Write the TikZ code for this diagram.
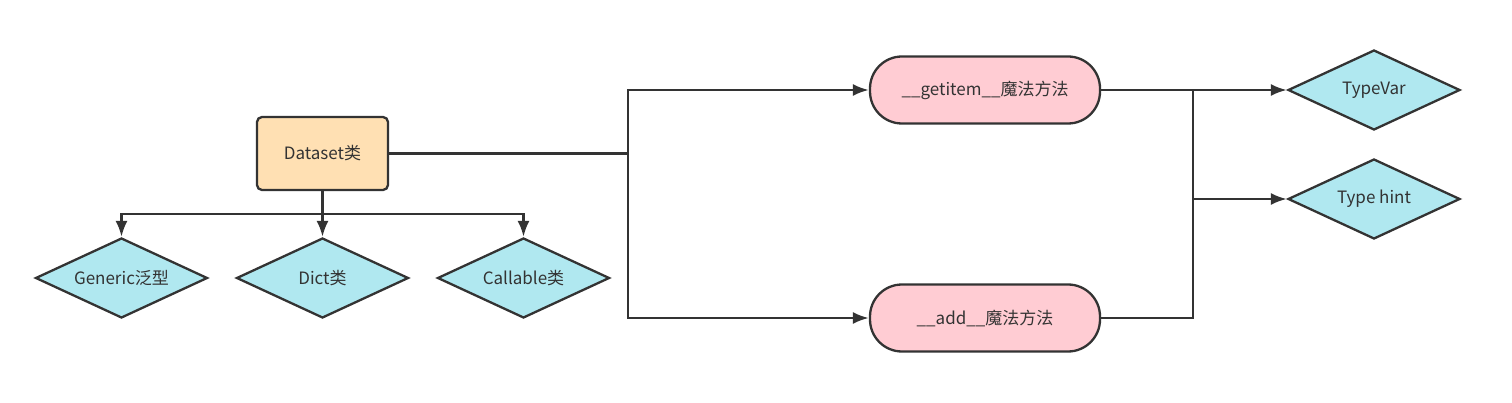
\documentclass[tikz,border=0pt]{standalone}
\usepackage{fontspec}
\setmainfont{Noto Sans CJK SC}
\usepackage{xcolor}
\usetikzlibrary{shapes,arrows.meta,positioning,calc}

\definecolor{boxpeach}{HTML}{FFE0B3}
\definecolor{boxpink}{HTML}{FFCCD3}
\definecolor{boxcyan}{HTML}{B0E8F0}
\definecolor{linegray}{HTML}{333333}

\tikzset{
    classbox/.style={rectangle, draw=linegray, line width=2.3pt, fill=boxpeach, rounded corners=5pt, minimum width=131pt, minimum height=73pt},
    methodbox/.style={rectangle, draw=linegray, line width=2.3pt, fill=boxpink, rounded corners=32pt, minimum width=230pt, minimum height=67pt},
    typebox/.style={diamond, draw=linegray, line width=2.3pt, fill=boxcyan, inner sep=0pt, aspect=2.15, minimum width=172pt, minimum height=80pt},
    link/.style={draw=linegray, line width=2.5pt},
    arrow/.style={link, -{Latex[length=16pt,width=12pt]}}
}

\begin{document}
\begin{tikzpicture}[x=1pt, y=1pt, font=\fontsize{17}{20}\selectfont, text=linegray]
    \useasboundingbox (0,0) rectangle (1512,-403);

    \node[classbox] (dataset) at (322.5,-153.5) {Dataset类};
    \node[typebox, below of=dataset, node distance=124.5pt] (dict) {Dict类};
    \node[typebox, left of=dict, node distance=201pt] (generic) {Generic泛型};
    \node[typebox, right of=dict, node distance=201pt] (callable) {Callable类};

    \node[methodbox] (getitem) at (985,-90) {\_\_getitem\_\_魔法方法};
    \node[methodbox, below of=getitem, node distance=228pt] (add) {\_\_add\_\_魔法方法};

    \node[typebox] (typevar) at (1374,-90) {TypeVar};
    \node[typebox, below of=typevar, node distance=109pt] (typehint) {Type hint};

    \coordinate (split) at ($(dataset.south)+(0,-23)$);
    \coordinate (fork) at (628,-153.5);
    \coordinate (merge) at (1193,-90);

    \draw[arrow] (dataset.south) -- (dict.north);
    \draw[arrow] (split) -| (generic.north);
    \draw[arrow] (split) -| (callable.north);

    \draw[link] (dataset.east) -- (fork);
    \draw[arrow] (fork) |- (getitem.west);
    \draw[arrow] (fork) |- (add.west);

    \draw[arrow] (getitem.east) -- (typevar.west);
    \draw[link] (add.east) -| (merge);
    \draw[arrow] (merge |- typehint.west) -- (typehint.west);
\end{tikzpicture}
\end{document}
